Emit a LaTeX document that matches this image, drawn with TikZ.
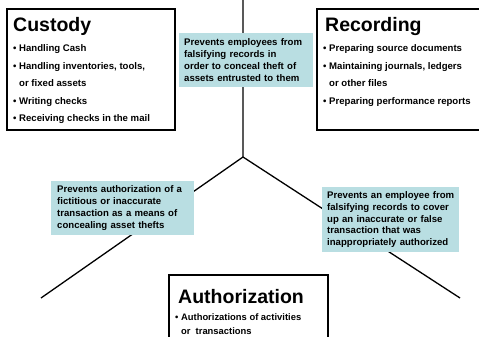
\documentclass[tikz,border=0pt]{standalone}
\usepackage{fontspec}
\setmainfont{Liberation Sans}
\definecolor{note}{RGB}{185,222,226}
\newcommand{\bul}{•\ }
\newcommand{\ind}{\hphantom{•\ }}
\begin{document}
\begin{tikzpicture}[x=1pt,y=-1pt,
  wbox/.style={draw=black, line width=1.6pt, fill=white, anchor=north west, inner sep=0pt},
  nbox/.style={fill=note, anchor=north west, inner xsep=5pt, inner ysep=0pt, align=left,
    font=\bfseries\fontsize{9.6}{11.8}\selectfont},
  head/.style={anchor=base west, inner sep=0pt, font=\bfseries\fontsize{19.5}{22}\selectfont},
  items/.style={anchor=base west, inner sep=0pt, font=\bfseries\fontsize{9.6}{17.5}\selectfont},
  link/.style={line width=1.3pt}]
\useasboundingbox (0,0) rectangle (479,337);
% connectors
\coordinate (top) at (243,0);
\coordinate (hub) at (243,157);
\coordinate (lend) at (41,298);
\coordinate (rend) at (460,298);
\draw[link] (top) -- (hub) -- (lend);
\draw[link] (hub) -- (rend);
% white boxes
\node[wbox, minimum width=168pt, minimum height=121pt] (custody) at (6,8) {};
\node[head] (custodyh) at (13,32) {Custody};
\node[items] (custodyl) at (13,52) {\parbox[t]{160pt}{\raggedright
  \bul Handling Cash\\
  \bul Handling inventories, tools,\\
  \ind or fixed assets\\
  \bul Writing checks\\
  \bul Receiving checks in the mail}};
\node[wbox, minimum width=163pt, minimum height=121pt] (recording) at (316,8) {};
\node[head] (recordingh) at (325,32) {Recording};
\node[items] (recordingl) at (323,52) {\parbox[t]{160pt}{\raggedright
  \bul Preparing source documents\\
  \bul Maintaining journals, ledgers\\
  \ind or other files\\
  \bul Preparing performance reports}};
\node[wbox, minimum width=159pt, minimum height=90pt] (auth) at (168,274) {};
\node[head] (authh) at (178,303) {Authorization};
\node[items, font=\bfseries\fontsize{9.4}{14}\selectfont] (authl) at (175,320) {\parbox[t]{160pt}{\raggedright
  \bul Authorizations of activities\\
  \ind or\ \ transactions}};
% notes
\node[nbox, text width=124pt, minimum height=54pt] (n1) at (179,33)
  {Prevents employees from\\ falsifying records in\\ order to conceal theft of\\ assets entrusted to them};
\node[nbox, inner xsep=6pt, text width=131pt, minimum height=54pt] (n2) at (51,181)
  {Prevents authorization of a\\ fictitious or inaccurate\\ transaction as a means of\\ concealing asset thefts};
\node[nbox, text width=127pt, minimum height=65pt] (n3) at (322,187)
  {Prevents an employee from\\ falsifying records to cover\\ up an inaccurate or false\\ transaction that was\\ inappropriately authorized};
\end{tikzpicture}
\end{document}
